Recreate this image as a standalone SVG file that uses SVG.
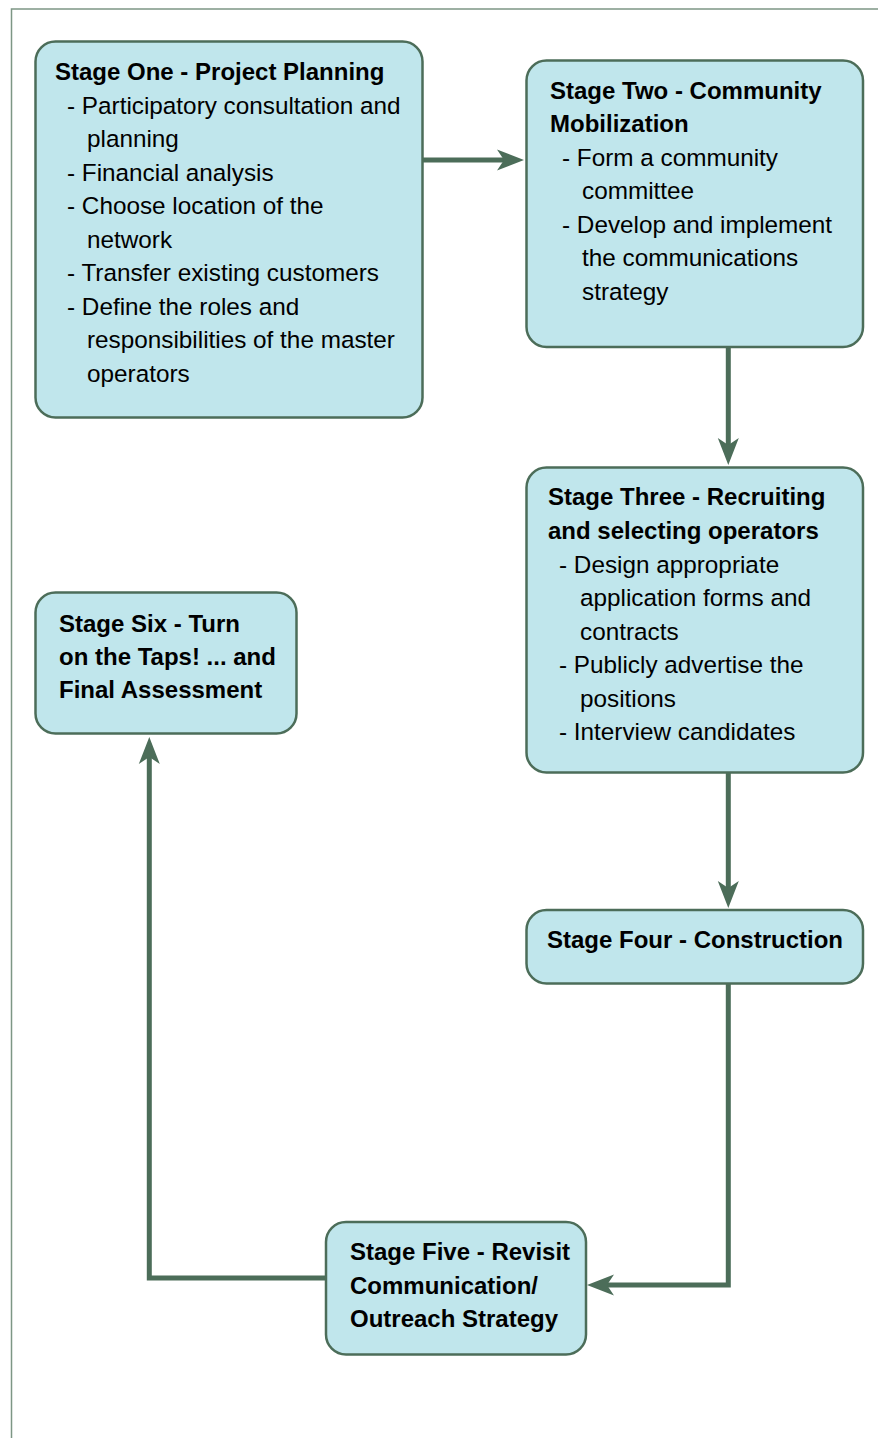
<svg xmlns="http://www.w3.org/2000/svg" width="878" height="1438" viewBox="0 0 878 1438">
<defs>
<style>
.node rect{fill:#c0e6ec;stroke:#4c6d59;stroke-width:2.5}
text{font-family:"Liberation Sans",Arial,Helvetica,sans-serif;font-size:24.3px;fill:#000}
.t{font-weight:bold;font-size:24px}
.conn{fill:none;stroke:#4c6d59;stroke-width:5}
</style>
<marker id="ah" markerUnits="userSpaceOnUse" markerWidth="28" markerHeight="22" refX="7" refY="10.5" orient="auto" overflow="visible">
<path d="M0,0 L27,10.5 L0,21 L7,10.5 Z" fill="#4c6d59"/>
</marker>
</defs>
<rect width="878" height="1438" fill="#fff"/>
<path d="M11.5,1438 V9 H878" fill="none" stroke="#7d9685" stroke-width="1.5"/>
<g id="connectors">
<path class="conn" d="M422,160 H504" marker-end="url(#ah)"/>
<path class="conn" d="M728.3,347 V445" marker-end="url(#ah)"/>
<path class="conn" d="M728.3,773 V888" marker-end="url(#ah)"/>
<path class="conn" d="M728.3,984 V1285 H607" marker-end="url(#ah)"/>
<path class="conn" d="M326,1278 H149.3 V757" marker-end="url(#ah)"/>
</g>
<g id="stage1" class="node">
<rect x="35.5" y="41.5" width="387" height="376" rx="20"/>
<text class="t" x="55" y="80">Stage One - Project Planning</text>
<text x="67" y="113.5">- Participatory consultation and</text>
<text x="87" y="147">planning</text>
<text x="67" y="180.5">- Financial analysis</text>
<text x="67" y="214">- Choose location of the</text>
<text x="87" y="247.5">network</text>
<text x="67" y="281">- Transfer existing customers</text>
<text x="67" y="314.5">- Define the roles and</text>
<text x="87" y="348">responsibilities of the master</text>
<text x="87" y="381.5">operators</text>
</g>
<g id="stage2" class="node">
<rect x="526.5" y="60.5" width="336.5" height="286.5" rx="20"/>
<text class="t" x="550" y="98.5">Stage Two - Community</text>
<text class="t" x="550" y="132">Mobilization</text>
<text x="562" y="165.5">- Form a community</text>
<text x="582" y="199">committee</text>
<text x="562" y="232.5">- Develop and implement</text>
<text x="582" y="266">the communications</text>
<text x="582" y="299.5">strategy</text>
</g>
<g id="stage3" class="node">
<rect x="526.5" y="467.5" width="336.5" height="305" rx="20"/>
<text class="t" x="548" y="505">Stage Three - Recruiting</text>
<text class="t" x="548" y="539">and selecting operators</text>
<text x="559" y="572.5">- Design appropriate</text>
<text x="580" y="606">application forms and</text>
<text x="580" y="639.5">contracts</text>
<text x="559" y="673">- Publicly advertise the</text>
<text x="580" y="706.5">positions</text>
<text x="559" y="740">- Interview candidates</text>
</g>
<g id="stage4" class="node">
<rect x="526.5" y="910" width="336.5" height="73.5" rx="20"/>
<text class="t" x="547" y="948">Stage Four - Construction</text>
</g>
<g id="stage5" class="node">
<rect x="326" y="1222" width="260" height="132.5" rx="20"/>
<text class="t" x="350" y="1260">Stage Five - Revisit</text>
<text class="t" x="350" y="1293.5">Communication/</text>
<text class="t" x="350" y="1327">Outreach Strategy</text>
</g>
<g id="stage6" class="node">
<rect x="35.5" y="592.5" width="261" height="141" rx="20"/>
<text class="t" x="59" y="632">Stage Six - Turn</text>
<text class="t" x="59" y="665">on the Taps! ... and</text>
<text class="t" x="59" y="698">Final Assessment</text>
</g>
</svg>
